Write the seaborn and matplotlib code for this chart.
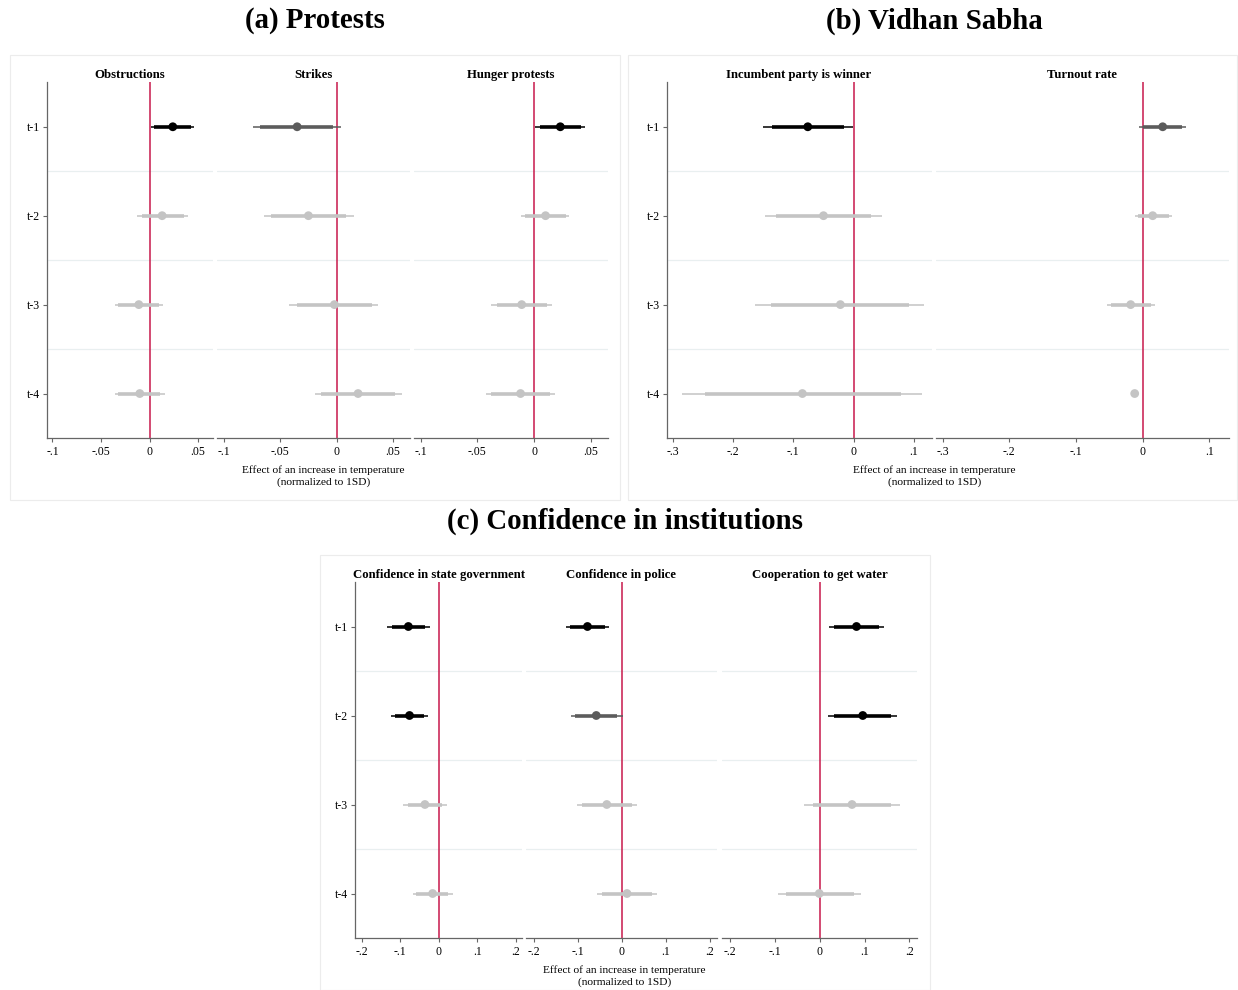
import matplotlib
matplotlib.use("Agg")
import matplotlib.pyplot as plt
from matplotlib.patches import Rectangle
import seaborn as sns
import numpy as np
import pandas as pd

# ---- data ----
lags = ['t-1', 't-2', 't-3', 't-4']

# (a) Protests
obstr_coef = [0.024, 0.013, -0.011, -0.010]
obstr_ci95 = [(0.002, 0.046), (-0.013, 0.040), (-0.036, 0.014), (-0.036, 0.016)]
obstr_ci90 = [(0.005, 0.043), (-0.008, 0.036), (-0.032, 0.010), (-0.032, 0.011)]
obstr_sig = ['5%', 'ns', 'ns', 'ns']

strikes_coef = [-0.035, -0.025, -0.002, 0.019]
strikes_ci95 = [(-0.074, 0.004), (-0.064, 0.015), (-0.042, 0.037), (-0.019, 0.058)]
strikes_ci90 = [(-0.068, -0.003), (-0.058, 0.008), (-0.035, 0.031), (-0.014, 0.052)]
strikes_sig = ['10%', 'ns', 'ns', 'ns']

hunger_coef = [0.023, 0.010, -0.011, -0.012]
hunger_ci95 = [(0.001, 0.045), (-0.012, 0.031), (-0.038, 0.016), (-0.042, 0.018)]
hunger_ci90 = [(0.005, 0.041), (-0.008, 0.028), (-0.033, 0.011), (-0.038, 0.014)]
hunger_sig = ['5%', 'ns', 'ns', 'ns']

# (b) Vidhan Sabha
incumb_coef = [-0.076, -0.050, -0.022, -0.085]
incumb_ci95 = [(-0.151, -0.001), (-0.147, 0.047), (-0.163, 0.117), (-0.284, 0.114)]
incumb_ci90 = [(-0.136, -0.016), (-0.129, 0.029), (-0.137, 0.091), (-0.246, 0.078)]
incumb_sig = ['5%', 'ns', 'ns', 'ns']

turnout_coef = [0.030, 0.015, -0.018, -0.012]
turnout_ci95 = [(-0.006, 0.065), (-0.012, 0.044), (-0.054, 0.018), (-0.015, -0.010)]
turnout_ci90 = [(0.001, 0.059), (-0.007, 0.039), (-0.047, 0.012), (-0.014, -0.011)]
turnout_sig = ['10%', 'ns', 'ns', 'ns']

# (c) Confidence in institutions
stategov_coef = [-0.079, -0.076, -0.036, -0.016]
stategov_ci95 = [(-0.134, -0.024), (-0.124, -0.029), (-0.092, 0.021), (-0.068, 0.036)]
stategov_ci90 = [(-0.122, -0.035), (-0.114, -0.038), (-0.081, 0.009), (-0.058, 0.025)]
stategov_sig = ['5%', '5%', 'ns', 'ns']

police_coef = [-0.078, -0.058, -0.034, 0.012]
police_ci95 = [(-0.127, -0.028), (-0.116, 0.002), (-0.101, 0.034), (-0.056, 0.080)]
police_ci90 = [(-0.117, -0.038), (-0.106, -0.010), (-0.090, 0.023), (-0.045, 0.069)]
police_sig = ['5%', '10%', 'ns', 'ns']

water_coef = [0.082, 0.096, 0.072, -0.001]
water_ci95 = [(0.021, 0.144), (0.019, 0.172), (-0.035, 0.178), (-0.093, 0.091)]
water_ci90 = [(0.032, 0.133), (0.031, 0.159), (-0.016, 0.159), (-0.076, 0.077)]
water_sig = ['5%', '5%', 'ns', 'ns']

ticks_a = [-0.1, -0.05, 0, 0.05]
ticks_b = [-0.3, -0.2, -0.1, 0, 0.1]
ticks_c = [-0.2, -0.1, 0, 0.1, 0.2]

sig_colors = {'5%': '#000000', '10%': '#5c5c5c', 'ns': '#c4c4c4'}

# ---- style ----
sns.set_theme(style='white')
plt.rcParams['font.family'] = ['Liberation Serif', 'DejaVu Serif']
plt.rcParams['text.color'] = 'black'
plt.rcParams['xtick.color'] = 'black'
plt.rcParams['ytick.color'] = 'black'
plt.rcParams['axes.labelcolor'] = 'black'

W, H = 1238, 990
fig = plt.figure(figsize=(W / 100, H / 100), dpi=100)
AX_GRAY = '#666666'


def px_axes(x0, y0, x1, y1):
    return fig.add_axes([x0 / W, 1 - y1 / H, (x1 - x0) / W, (y1 - y0) / H])


def stata_fmt(v):
    if v == 0:
        return '0'
    s = f"{v:g}"
    return s.replace('0.', '.')


def coef_panel(ax, title, coef, ci95, ci90, sig, xlim, xticks, first):
    df = pd.DataFrame({'lag': lags, 'row': np.arange(len(lags)), 'coef': coef,
                       'lo95': [c[0] for c in ci95], 'hi95': [c[1] for c in ci95],
                       'lo90': [c[0] for c in ci90], 'hi90': [c[1] for c in ci90],
                       'sig': sig})
    for yb in [0.5, 1.5, 2.5]:
        ax.axhline(yb, color='#e9eff0', lw=0.9, zorder=0)
    ax.axvline(0, color='#c8194b', lw=1.1, zorder=1)
    cols = df['sig'].map(sig_colors)
    ax.hlines(df['row'], df['lo95'], df['hi95'], colors=cols, lw=1.3, alpha=0.85, zorder=2)
    ax.hlines(df['row'], df['lo90'], df['hi90'], colors=cols, lw=2.6, zorder=3)
    sns.scatterplot(data=df, x='coef', y='row', hue='sig', palette=sig_colors,
                    s=40, linewidth=0, legend=False, ax=ax, zorder=4)
    ax.set_xlim(*xlim)
    ax.set_ylim(3.5, -0.5)
    ax.set_xticks(xticks)
    ax.set_xticklabels([stata_fmt(t) for t in xticks])
    ax.set_xlabel('')
    ax.set_ylabel('')
    ax.set_title(title, fontsize=9.2, fontweight='bold', pad=3)
    for sp in ['top', 'right']:
        ax.spines[sp].set_visible(False)
    ax.spines['bottom'].set_color(AX_GRAY)
    ax.spines['bottom'].set_linewidth(0.9)
    ax.tick_params(axis='x', bottom=True, direction='out', length=3, width=0.8,
                   color=AX_GRAY, labelsize=8.5, pad=3)
    if first:
        ax.spines['left'].set_color(AX_GRAY)
        ax.spines['left'].set_linewidth(0.9)
        ax.set_yticks(df['row'])
        ax.set_yticklabels(df['lag'])
        ax.tick_params(axis='y', left=True, direction='out', length=3, width=0.8,
                       color=AX_GRAY, labelsize=8.5, pad=2)
    else:
        ax.spines['left'].set_visible(False)
        ax.set_yticks([])


# group boxes
for (bx0, by0, bx1, by1) in [(10, 55, 620, 500), (628, 55, 1237, 500), (320, 555, 930, 990)]:
    fig.patches.append(Rectangle((bx0 / W, 1 - by1 / H), (bx1 - bx0) / W, (by1 - by0) / H,
                                 transform=fig.transFigure, fill=False,
                                 edgecolor='#ececec', lw=0.8))

# (a)
xa = (-0.106, 0.065)
coef_panel(px_axes(46.6, 82.3, 212.6, 438), 'Obstructions', obstr_coef, obstr_ci95,
           obstr_ci90, obstr_sig, xa, ticks_a, True)
coef_panel(px_axes(217, 82.3, 410, 438), 'Strikes', strikes_coef, strikes_ci95,
           strikes_ci90, strikes_sig, xa, ticks_a, False)
coef_panel(px_axes(413.8, 82.3, 608, 438), 'Hunger protests', hunger_coef, hunger_ci95,
           hunger_ci90, hunger_sig, xa, ticks_a, False)

# (b)
xb = (-0.31, 0.129)
coef_panel(px_axes(666.6, 82.3, 931.5, 438), 'Incumbent party is winner', incumb_coef,
           incumb_ci95, incumb_ci90, incumb_sig, xb, ticks_b, True)
coef_panel(px_axes(936, 82.3, 1228.7, 438), 'Turnout rate', turnout_coef, turnout_ci95,
           turnout_ci90, turnout_sig, xb, ticks_b, False)

# (c)
xc = (-0.218, 0.217)
coef_panel(px_axes(354.8, 582, 522.4, 938), 'Confidence in state government', stategov_coef,
           stategov_ci95, stategov_ci90, stategov_sig, xc, ticks_c, True)
coef_panel(px_axes(526, 582, 717, 938), 'Confidence in police', police_coef, police_ci95,
           police_ci90, police_sig, xc, ticks_c, False)
coef_panel(px_axes(722, 582, 917, 938), 'Cooperation to get water', water_coef, water_ci95,
           water_ci90, water_sig, xc, ticks_c, False)

# titles and axis labels
for (tx, ty, txt) in [(315, 21, '(a) Protests'), (934.5, 21, '(b) Vidhan Sabha'),
                      (625, 521, '(c) Confidence in institutions')]:
    fig.text(tx / W, 1 - ty / H, txt, ha='center', va='center', fontsize=20.8, fontweight='bold')

xlab = 'Effect of an increase in temperature\n(normalized to 1SD)'
for (lx, ly) in [(323.5, 476), (934.5, 476), (624.5, 976)]:
    fig.text(lx / W, 1 - ly / H, xlab, ha='center', va='center', fontsize=8.2, linespacing=1.25)

plt.savefig('out.png', dpi=100)
